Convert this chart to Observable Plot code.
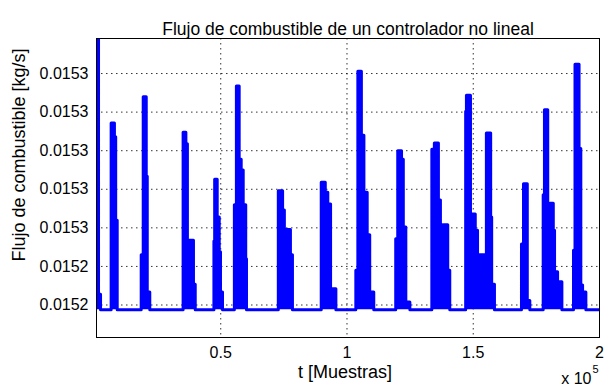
<!DOCTYPE html>
<html>
<head>
<meta charset="utf-8">
<script src="https://cdn.jsdelivr.net/npm/d3@7"></script>
<script src="https://cdn.jsdelivr.net/npm/@observablehq/plot@0.6"></script>
<style>
  html, body { margin: 0; padding: 0; background: #fff; }
</style>
</head>
<body>
<div id="chart"></div>
<script>
// Texts
const title = "Flujo de combustible de un controlador no lineal";
const xLabel = "t [Muestras]";
const yLabel = "Flujo de combustible [kg/s]";
const xExponentBase = "x 10";
const xExponent = "5";

// Fuel-flow signal (step changes): sample index and flow in kg/s
const samples = [
  800, 1600, 2400,
  6600, 7900, 8400, 9000,
  18500, 19300, 20500, 20900, 21900,
  35100, 36200, 36800, 37500, 39200, 39900,
  47300, 47600, 48600, 49400, 49900, 50700,
  55400, 56200, 57300, 58100, 58900, 59900, 60200,
  72800, 74500, 75200, 75900, 77600, 78400,
  89800, 91400, 92400, 93500, 95600,
  103500, 104300, 105700, 106700, 108000, 109000, 110600,
  119300, 120100, 121600, 122300, 123300, 124900,
  133600, 134600, 136200, 137000, 137800, 138300, 139900, 140700,
  147000, 147300, 148900, 150800, 151700, 152300, 155200, 156900, 157300, 158400,
  169100, 169900, 171400, 172400,
  177700, 178200, 179500, 180300, 181700, 182200, 183400, 185100,
  189700, 190300, 191900, 192600, 193300, 194600,
  200000
];
const flow = [
  0.0152800, 0.0152414, 0.0152394,
  0.0152636, 0.0152618, 0.0152510, 0.0152394,
  0.0152465, 0.0152670, 0.0152567, 0.0152417, 0.0152394,
  0.0152624, 0.0152609, 0.0152466, 0.0152484, 0.0152427, 0.0152394,
  0.0152483, 0.0152563, 0.0152514, 0.0152469, 0.0152417, 0.0152394,
  0.0152530, 0.0152684, 0.0152589, 0.0152575, 0.0152530, 0.0152460, 0.0152394,
  0.0152548, 0.0152523, 0.0152465, 0.0152498, 0.0152465, 0.0152394,
  0.0152559, 0.0152546, 0.0152531, 0.0152421, 0.0152394,
  0.0152445, 0.0152703, 0.0152620, 0.0152546, 0.0152491, 0.0152417, 0.0152394,
  0.0152486, 0.0152600, 0.0152589, 0.0152501, 0.0152404, 0.0152394,
  0.0152602, 0.0152610, 0.0152536, 0.0152504, 0.0152445, 0.0152504, 0.0152445, 0.0152394,
  0.0152651, 0.0152672, 0.0152518, 0.0152497, 0.0152402, 0.0152465, 0.0152623, 0.0152514, 0.0152427, 0.0152394,
  0.0152479, 0.0152557, 0.0152406, 0.0152394,
  0.0152543, 0.0152653, 0.0152510, 0.0152532, 0.0152497, 0.0152443, 0.0152430, 0.0152394,
  0.0152471, 0.0152712, 0.0152603, 0.0152426, 0.0152417, 0.0152394,
  0.0152394
];
const restingFlow = 0.0152394;

// Axes
const xDomain = [800, 200000];
const yDomain = [0.01523579, 0.01527454];
const xTicks = [50000, 100000, 150000, 200000];
const xTickLabels = ["0.5", "1", "1.5", "2"];
const yTicks = [0.01524, 0.015245, 0.01525, 0.015255, 0.01526, 0.015265, 0.01527];
const yTickLabels = ["0.0152", "0.0152", "0.0153", "0.0153", "0.0153", "0.0153", "0.0153"];

const data = samples.map((t, i) => ({t, v: flow[i]}));
const xFmt = new Map(xTicks.map((d, i) => [d, xTickLabels[i]]));
const yFmt = new Map(yTicks.map((d, i) => [d, yTickLabels[i]]));

const blue = "#0000ff";
const dotted = {stroke: "#000", strokeOpacity: 0.8, strokeWidth: 1, strokeDasharray: "1.5,3.5"};

const chart = Plot.plot({
  width: 605,
  height: 391,
  marginLeft: 96,
  marginRight: 6,
  marginTop: 38,
  marginBottom: 54,
  style: {
    fontFamily: "'Liberation Sans', Arial, sans-serif",
    fontSize: "16px",
    background: "#fff",
    color: "#000"
  },
  x: {domain: xDomain},
  y: {domain: yDomain},
  marks: [
    Plot.gridY(yTicks, dotted),
    Plot.gridX(xTicks.slice(0, 3), dotted),
    Plot.areaY(data, {x: "t", y1: restingFlow, y2: "v", curve: "step-after", fill: blue, clip: true}),
    Plot.lineY(data, {x: "t", y: "v", curve: "step-after", stroke: blue, strokeWidth: 3, clip: true}),
    Plot.frame({stroke: "#000"}),
    Plot.axisX({ticks: xTicks, tickFormat: d => xFmt.get(d), tickSize: 0, tickPadding: 9, fontSize: 16, label: null}),
    Plot.axisY({ticks: yTicks, tickFormat: d => yFmt.get(d), tickSize: 0, tickPadding: 8, fontSize: 16, label: null}),
    Plot.text([title], {frameAnchor: "top", dy: -16, fontSize: 17.5, fill: "#000"}),
    Plot.text([yLabel], {frameAnchor: "left", textAnchor: "middle", rotate: -90, dx: -77, dy: -33, fontSize: 18, fill: "#000"}),
    Plot.text([xLabel], {frameAnchor: "bottom", dx: -3, dy: 40, fontSize: 18, fill: "#000"}),
    Plot.text([xExponentBase], {frameAnchor: "bottom-right", textAnchor: "end", dx: -8, dy: 46, fontSize: 16, fill: "#000"}),
    Plot.text([xExponent], {frameAnchor: "bottom-right", textAnchor: "start", dx: -7, dy: 35, fontSize: 11, fill: "#000"})
  ]
});

document.getElementById("chart").appendChild(chart);
</script>
</body>
</html>
